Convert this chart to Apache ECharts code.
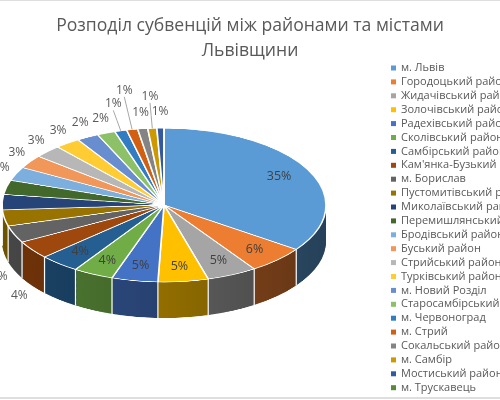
<!DOCTYPE html>
<html>
<head>
<meta charset="utf-8">
<script src="https://cdn.jsdelivr.net/npm/echarts@6/dist/echarts.min.js"></script>
<style>
  body { margin: 0; background: #fff; }
  #wrap { position: relative; width: 500px; height: 400px; overflow: hidden; background: #fff; }
  #pie3d { position: absolute; left: 0; top: 0; width: 500px; height: 842px; transform: scaleY(0.475); transform-origin: 0 0; }
  #chart { position: absolute; left: 0; top: 0; width: 500px; height: 400px; }
  .edge { position: absolute; left: 0; width: 500px; background: #dedede; }
</style>
</head>
<body>
<div id="wrap">
  <div id="pie3d"></div>
  <div id="chart"></div>
  <div class="edge" style="top:0;height:1px"></div>
  <div class="edge" style="top:397px;height:2px"></div>
</div>
<script>
var regions = [
  'м. Львів', 'Городоцький район', 'Жидачівський район', 'Золочівський район',
  'Радехівський район', 'Сколівський район', 'Самбірський район', "Кам'янка-Бузький район",
  'м. Борислав', 'Пустомитівський район', 'Миколаївський район', 'Перемишлянський район',
  'Бродівський район', 'Буський район', 'Стрийський район', 'Турківський район',
  'м. Новий Розділ', 'Старосамбірський район', 'м. Червоноград', 'м. Стрий',
  'Сокальський район', 'м. Самбір', 'Мостиський район', 'м. Трускавець'
];
// частка субвенції, %
var shares = [
  34.8, 5.8, 5.0, 5.0,
  4.6, 4.0, 4.0, 3.8,
  3.6, 3.4, 3.2, 3.0,
  2.9, 2.8, 2.7, 2.5,
  2.2, 1.8, 1.2, 1.1,
  1.0, 0.9, 0.7, 0
];
var sliceColors = [
  '#5B9BD5', '#ED7D31', '#A5A5A5', '#FFC000', '#4472C4', '#70AD47', '#255E91', '#9E480E',
  '#636363', '#997300', '#264478', '#43682B', '#7CAFDD', '#F1975A', '#B7B7B7', '#FFCD33',
  '#698ED0', '#8CC168', '#327DC2', '#D26012', '#848484', '#CC9A00', '#335AA1', '#5A8A39'
];

var tilt = 0.475;
var cx = 164, cy = 205, rx = 162, depth = 36;
var ry = rx * tilt;
var nInside = 7;
var total = shares.reduce(function (a, b) { return a + b; }, 0);

function darken(hex, f) {
  var n = parseInt(hex.slice(1), 16);
  var r = Math.round(((n >> 16) & 255) * f);
  var g = Math.round(((n >> 8) & 255) * f);
  var b = Math.round((n & 255) * f);
  return 'rgb(' + r + ',' + g + ',' + b + ')';
}

// верх і бічна стінка, сплюснуті css-трансформом
var pie3d = echarts.init(document.getElementById('pie3d'));
var layers = [];
var steps = 30;
for (var s = steps; s >= 1; s--) {
  layers.push({
    type: 'pie',
    silent: true,
    animation: false,
    center: [cx, cy / tilt + (depth / tilt) * s / steps],
    radius: rx,
    label: { show: false },
    labelLine: { show: false },
    data: regions.map(function (name, i) {
      return {
        name: name,
        value: shares[i],
        itemStyle: {
          color: new echarts.graphic.LinearGradient(cx - rx, 0, cx + rx, 0, [
            { offset: 0, color: darken(sliceColors[i], 0.72) },
            { offset: 1, color: darken(sliceColors[i], 0.42) }
          ], true)
        }
      };
    })
  });
}
layers.push({
  type: 'pie',
  silent: true,
  animation: false,
  center: [cx, cy / tilt],
  radius: rx,
  label: { show: false },
  labelLine: { show: false },
  itemStyle: { borderColor: '#fff', borderWidth: 1.6 },
  data: regions.map(function (name, i) {
    return { name: name, value: shares[i], itemStyle: { color: sliceColors[i] } };
  })
});
pie3d.setOption({ series: layers });

// білі шви на бічній стінці між секторами
function wallSeams() {
  var acc = 0, seams = [];
  shares.forEach(function (v) {
    acc += v;
    var a = acc / total * 2 * Math.PI;
    if (Math.cos(a) < -0.02 && acc < total) {
      var x = cx + rx * Math.sin(a), y = cy - ry * Math.cos(a);
      seams.push({
        type: 'line', silent: true,
        shape: { x1: x, y1: y, x2: x, y2: y + depth },
        style: { stroke: '#fff', lineWidth: 1.2 }
      });
    }
  });
  return seams;
}

// розміщення підписів на еліпсі (як "найкраще розміщення" в Excel)
function placeLabels() {
  var ctx = document.createElement('canvas').getContext('2d');
  ctx.font = '12px "Open Sans"';
  var placed = [], out = [], acc = 0;
  shares.forEach(function (v, i) {
    var a = (acc + v / 2) / total * 2 * Math.PI;
    acc += v;
    var sn = Math.sin(a), cs = Math.cos(a);
    if (i < nInside) {
      out.push({ x: cx + 0.8 * rx * sn, y: cy - 0.8 * ry * cs, line: null });
      return;
    }
    var w = ctx.measureText(Math.round(v / total * 100) + '%').width + 2, h = 13;
    var rimX = cx + rx * sn, rimY = cy - ry * cs;
    var drop = cs < 0 ? depth : 0;
    var d = 16, x, y, pushed = false;
    for (;;) {
      x = rimX + d * sn;
      y = rimY - d * cs + drop;
      var hit = placed.some(function (b) {
        return Math.abs(b.x - x) < (b.w + w) / 2 && Math.abs(b.y - y) < (b.h + h) / 2;
      });
      if (!hit || d > 90) break;
      d += 4;
      pushed = true;
    }
    placed.push({ x: x, y: y, w: w, h: h });
    var ey = cs > 0 ? y + h / 2 : y - h / 2;
    out.push({
      x: x, y: y,
      line: pushed ? [[rimX, rimY + drop], [(rimX + x) / 2, (rimY + drop + ey) / 2], [x, ey]] : null
    });
  });
  return out;
}
var labelPos = placeLabels();

var chart = echarts.init(document.getElementById('chart'));
chart.setOption({
  textStyle: { fontFamily: 'Open Sans' },
  title: {
    text: 'Розподіл субвенцій між районами та містами\nЛьвівщини',
    left: 'center',
    top: 8,
    textStyle: { fontSize: 17.6, fontWeight: 'normal', color: '#595959', lineHeight: 25, fontFamily: 'Open Sans' }
  },
  legend: {
    orient: 'vertical',
    left: 386,
    top: 57,
    icon: 'rect',
    itemWidth: 5,
    itemHeight: 5,
    itemGap: 1.9,
    textStyle: { fontSize: 11, color: '#595959', lineHeight: 12 },
    data: regions.map(function (name, i) {
      return { name: name, itemStyle: { color: sliceColors[i] } };
    })
  },
  graphic: wallSeams(),
  series: [{
    type: 'pie',
    silent: true,
    animation: false,
    avoidLabelOverlap: false,
    center: [cx, cy],
    radius: rx,
    label: {
      fontSize: 12,
      color: '#595959',
      overflow: 'none',
      formatter: function (p) { return Math.round(p.percent) + '%'; }
    },
    labelLine: { lineStyle: { color: '#a6a6a6', width: 1 } },
    labelLayout: function (p) {
      var L = labelPos[p.dataIndex];
      var res = { x: L.x, y: L.y, align: 'center', verticalAlign: 'middle' };
      if (L.line) res.labelLinePoints = L.line;
      return res;
    },
    data: regions.map(function (name, i) {
      var inside = i < nInside;
      return {
        name: name,
        value: shares[i],
        itemStyle: { color: 'rgba(0,0,0,0)' },
        label: {
          show: shares[i] > 0,
          position: inside ? 'inside' : 'outside',
          color: inside ? '#404040' : '#595959',
          fontSize: inside ? 12.5 : 12
        },
        labelLine: { show: shares[i] > 0 && !!labelPos[i].line }
      };
    })
  }]
});
</script>
</body>
</html>
